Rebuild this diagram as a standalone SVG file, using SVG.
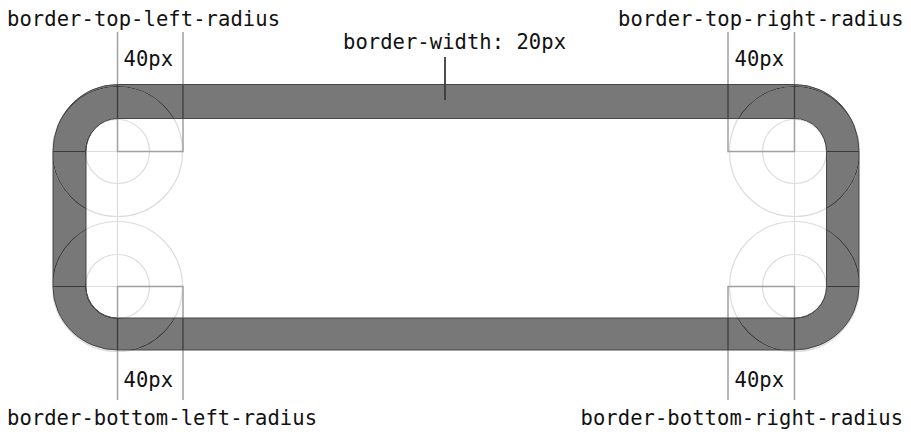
<svg xmlns="http://www.w3.org/2000/svg" width="911" height="438" viewBox="0 0 911 438">
<style>
  .lbl { font-family: "DejaVu Sans Mono", "Liberation Mono", monospace; font-size: 20.5px; fill: #111; }
  .fill { fill: #787878; fill-rule: evenodd; }
  .edge { fill: none; stroke: #474747; stroke-width: 1; }
</style>
<defs>
  <path id="border" d="M117.5 84.5 H794.5 A64.5 67 0 0 1 859 151.5 V286.5 A64.5 63.5 0 0 1 794.5 350 H117.5 A64.5 63.5 0 0 1 53 286.5 V151.5 A64.5 67 0 0 1 117.5 84.5 Z M117.5 118.5 A31.5 33 0 0 0 86 151.5 V286.5 A31.5 31.5 0 0 0 117.5 318 H794.5 A31.5 31.5 0 0 0 826.5 286.5 V151.5 A31.5 33 0 0 0 794.5 118.5 Z"/>
  <clipPath id="bclip"><use href="#border" clip-rule="evenodd"/></clipPath>
  <g id="guides" fill="none" stroke-width="1.2">
    <circle cx="117.5" cy="151.5" r="65"/>
    <circle cx="117.5" cy="151.5" r="32"/>
    <circle cx="117.5" cy="286.5" r="65"/>
    <circle cx="117.5" cy="286.5" r="32"/>
    <circle cx="794.5" cy="151.5" r="65"/>
    <circle cx="794.5" cy="151.5" r="32"/>
    <circle cx="794.5" cy="286.5" r="65"/>
    <circle cx="794.5" cy="286.5" r="32"/>
    <path d="M117.5 151.5 V286.5 M794.5 151.5 V286.5 M53 151.5 H183 M53 286.5 H183 M728 151.5 H859 M728 286.5 H859"/>
  </g>
  <path id="boxes" fill="none" stroke-width="1.5" d="M117.5 32 V151.5 H183 V32 M117.5 400 V286.5 H183 V400 M728 32 V151.5 H794.5 V32 M728 400 V286.5 H794.5 V400"/>
</defs>
<rect width="911" height="438" fill="#fff"/>
<g id="border-box">
  <use href="#border" class="fill"/>
</g>
<g id="connectors">
  <use href="#guides" stroke="#dcdcdc"/>
  <use href="#boxes" stroke="#a0a0a0"/>
  <g clip-path="url(#bclip)">
    <use href="#guides" stroke="#3a3a3a"/>
    <use href="#boxes" stroke="#3a3a3a"/>
  </g>
  <use href="#border" class="edge"/>
  <line x1="445" y1="57" x2="445" y2="100" stroke="#3a3a3a" stroke-width="1.8"/>
</g>
<g id="label-top-left"><text class="lbl" x="7" y="26" textLength="273" lengthAdjust="spacing">border-top-left-radius</text></g>
<g id="label-top-right"><text class="lbl" x="618" y="26" textLength="285.5" lengthAdjust="spacing">border-top-right-radius</text></g>
<g id="label-width"><text class="lbl" x="343" y="49" textLength="223" lengthAdjust="spacing">border-width: 20px</text></g>
<g id="tl-40"><text class="lbl" x="123.5" y="66" textLength="49.6" lengthAdjust="spacing">40px</text></g>
<g id="tr-40"><text class="lbl" x="734.5" y="66" textLength="49.6" lengthAdjust="spacing">40px</text></g>
<g id="bl-40"><text class="lbl" x="123.5" y="387" textLength="49.6" lengthAdjust="spacing">40px</text></g>
<g id="br-40"><text class="lbl" x="734.5" y="387" textLength="49.6" lengthAdjust="spacing">40px</text></g>
<g id="label-bottom-left"><text class="lbl" x="7" y="425" textLength="310" lengthAdjust="spacing">border-bottom-left-radius</text></g>
<g id="label-bottom-right"><text class="lbl" x="580.5" y="425" textLength="322.5" lengthAdjust="spacing">border-bottom-right-radius</text></g>
</svg>
